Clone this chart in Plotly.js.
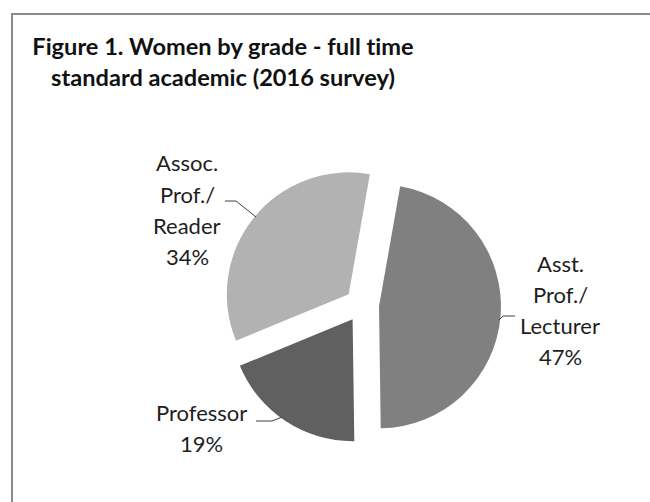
<!DOCTYPE html>
<html>
<head>
<meta charset="utf-8">
<script src="https://cdn.plot.ly/plotly-3.0.1.min.js"></script>
<style>html,body{margin:0;padding:0;background:#fff;}#chart{width:650px;height:502px;}text{font-variant-ligatures:none;font-feature-settings:"liga" 0;}</style>
</head>
<body>
<div id="chart"></div>
<script>
// ---- data ----
const categories = ['Asst. Prof./Lecturer', 'Professor', 'Assoc. Prof./Reader'];
const labelLines = [['Asst.', 'Prof./', 'Lecturer'], ['Professor'], ['Assoc.', 'Prof./', 'Reader']];
const values = [47, 19, 34];
const sliceColors = ['#808080', '#606060', '#b2b2b2'];
const titleText = 'Figure 1. Women by grade - full time<br>standard academic (2016 survey)';

// ---- layout helpers (pixel -> paper) ----
const W = 650, H = 502;
const px = x => x / W;
const py = y => 1 - y / H;

const labelFirstLine = [[560, 263], [202, 412], [187, 163]];
const lineGap = 31;
const leaders = [
  [[499, 320], [503, 316], [515, 316]],
  [[256, 421], [272, 421], [282, 417]],
  [[225, 201], [236, 201], [256, 217]]
];

const total = values.reduce((a, b) => a + b, 0);
const annotations = [];
categories.forEach((c, i) => {
  const lines = labelLines[i].concat([Math.round(values[i] / total * 100) + '%']);
  lines.forEach((t, k) => {
    annotations.push({
      xref: 'paper', yref: 'paper',
      x: px(labelFirstLine[i][0]), y: py(labelFirstLine[i][1] + k * lineGap),
      xanchor: 'center', yanchor: 'middle',
      text: t, showarrow: false,
      font: {family: 'Lato, "Open Sans", sans-serif', size: 22, color: '#1e1e1e'}
    });
  });
});

const shapes = [{
  type: 'rect', xref: 'paper', yref: 'paper',
  x0: px(12), x1: 1.1, y0: -0.1, y1: py(14),
  line: {color: '#8a8a8a', width: 2}, fillcolor: 'rgba(0,0,0,0)'
}];
leaders.forEach(pts => {
  shapes.push({
    type: 'path', xref: 'paper', yref: 'paper',
    path: 'M' + pts.map(p => px(p[0]) + ',' + py(p[1])).join(' L'),
    line: {color: '#404040', width: 1}
  });
});

const cx = 362, cy = 305, half = 139;
const data = [{
  type: 'pie',
  labels: categories,
  values: values,
  sort: false,
  direction: 'clockwise',
  rotation: 10,
  pull: [0.14, 0.14, 0.14],
  marker: {colors: sliceColors, line: {width: 0}},
  textinfo: 'none',
  hoverinfo: 'label+percent',
  domain: {x: [px(cx - half), px(cx + half)], y: [py(cy + half), py(cy - half)]}
}];

const layout = {
  width: W, height: H,
  margin: {l: 0, r: 0, t: 0, b: 0},
  paper_bgcolor: '#ffffff',
  showlegend: false,
  title: {
    text: '<b>' + titleText.split('<br>').join('</b><br><b>') + '</b>',
    font: {family: 'Lato, "Open Sans", sans-serif', size: 23.6, color: '#111'},
    xref: 'paper', yref: 'paper',
    x: px(223), xanchor: 'center',
    y: py(55), yanchor: 'middle'
  },
  annotations: annotations,
  shapes: shapes
};

Plotly.newPlot('chart', data, layout, {displayModeBar: false, staticPlot: true});
</script>
</body>
</html>
